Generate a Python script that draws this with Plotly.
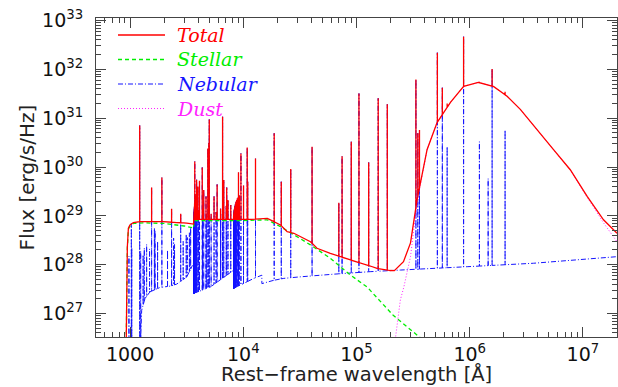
import numpy as np
import plotly.graph_objects as go

# ---------------- data ----------------
# Total continuum (Angstrom, erg/s/Hz)
TOT_WAVE = [912, 920, 946, 966, 998, 1069, 1223, 1498, 1968, 2578, 3160, 3640, 3650,
            11700, 16300, 18650, 21300, 24400, 27960, 39200, 44800, 58700, 88600,
            132000, 152000, 199000, 216000, 260000, 300000, 343000, 420000, 515000,
            676000, 880000, 1190000, 1620000, 2140000, 2800000, 5500000, 7730000,
            10900000, 15200000, 20000000]
TOT_FLUX = [1e25, 1e26, 2.34e28, 5.6e28, 6.5e28, 7.3e28, 7.6e28, 7.6e28, 7.6e28, 7.3e28,
            7.1e28, 6.8e28, 8.5e28, 8.5e28, 8.9e28, 7.6e28, 6.5e28, 4.75e28, 4.4e28,
            2.96e28, 2.17e28, 1.71e28, 1.25e28, 9.4e27, 8.4e27, 7.6e27, 7.55e27,
            1.15e28, 2.8e28, 2.15e29, 2.26e30, 8.1e30, 2.1e31, 4.45e31, 5.4e31,
            4.45e31, 2.8e31, 1.51e31, 2.27e30, 8.8e29, 2.5e29, 8.3e28, 4.4e28]

# Stellar continuum
STEL_WAVE = [912, 920, 946, 966, 998, 1069, 1300, 2000, 3000, 3600, 3640, 3650, 10000,
             16300, 21300, 28000, 39200, 58700, 88600, 124000, 211000, 366000, 450000]
STEL_FLUX = [1e25, 1e26, 2.2e28, 5.3e28, 6.2e28, 7.0e28, 7.2e28, 7.0e28, 6.2e28, 5.7e28,
             5.6e28, 8.0e28, 8.0e28, 8.3e28, 6.0e28, 4.1e28, 2.54e28, 1.35e28, 6.1e27,
             3.5e27, 9.2e26, 3.2e26, 2.1e26]

# Nebular continuum
NEB_WAVE = [912, 1216, 1218, 1266, 1354, 1498, 1837, 2250, 2578, 3160, 3640, 3650, 5140,
            8200, 8210, 12400, 14580, 14590, 18620, 22800, 32060, 63100, 132000, 244000,
            950000, 3650000, 20000000]
NEB_FLUX = [1e24, 1e24, 1e26, 1.17e27, 2.03e27, 2.78e27, 3.42e27, 3.64e27, 4.0e27,
            5.57e27, 1.08e28, 2.58e27, 3.52e27, 7.7e27, 3.27e27, 5.25e27, 6.1e27, 4.1e27,
            4.8e27, 5.25e27, 5.65e27, 6.4e27, 7.2e27, 7.77e27, 9.1e27, 1.07e28, 1.46e28]

# Dust continuum
DUST_WAVE = [200000, 221000, 244000, 262000, 300000, 343000, 420000, 515000, 676000,
             880000, 1190000, 1620000, 2140000, 2800000, 5500000, 7730000, 10900000,
             15200000, 20000000]
DUST_FLUX = [1e25, 3.2e26, 1.9e27, 3.5e27, 1.46e28, 1.9e29, 2.25e30, 8.1e30, 2.1e31,
             4.45e31, 5.4e31, 4.45e31, 2.8e31, 1.5e31, 2.26e30, 8.7e29, 2.4e29, 7.2e28,
             2.95e28]

# Emission lines: wavelength, peak of total spectrum (0 = not above), peak of nebular spectrum
LINE_WAVE = [977, 1026, 1035, 1216, 1240, 1304, 1335, 1400, 1486, 1549, 1640, 1663, 1750,
             1909, 2142, 2326, 2424, 2470, 2800, 2945, 3133, 3203, 3342, 3426,
             3662, 3664, 3666, 3668, 3670, 3672, 3674, 3676, 3679, 3682, 3686, 3691,
             3697, 3704, 3712, 3722, 3727, 3734, 3750, 3771, 3798, 3820, 3835, 3869,
             3889, 3970, 4026, 4102, 4340, 4363, 4471, 4686, 4713, 4861, 4959, 5007,
             5200, 5517, 5755, 5876, 6300, 6312, 6563, 6584, 6720, 7065, 7136, 7325,
             7751, 8210, 8215, 8220, 8227, 8234, 8242, 8252, 8263, 8276, 8292, 8312,
             8334, 8359, 8392, 8413, 8438, 8467, 8502, 8545, 8598, 8665, 8750, 8863,
             9015, 9069, 9229, 9531, 10049, 10830, 10938, 12818, 18751, 21655, 26252,
             40512, 69800, 74600, 89900, 105100, 128100, 155500, 187100, 334800,
             348000, 360000, 518000, 573000, 632000, 883000, 1218000, 1455000,
             1577000, 2053000]
LINE_TOT = [0, 0, 0, 7.1e30, 0, 0, 0, 0, 0, 3.8e29, 0, 0, 0,
            6.1e29, 0, 1.4e29, 0, 0, 1.1e29, 0, 0, 0, 0, 0,
            1.0e29, 1.0e29, 1.05e29, 1.05e29, 1.1e29, 1.1e29, 1.15e29, 1.2e29, 1.2e29,
            1.3e29, 1.3e29, 1.4e29, 1.5e29, 1.6e29, 1.8e29, 1.9e29, 1.3e30, 2.1e29,
            2.3e29, 2.5e29, 2.2e29, 1.2e29, 2.8e29, 5.5e29,
            3.0e29, 4.0e29, 1.3e29, 5.2e29, 9.8e29, 1.4e29, 3.4e29, 2.5e29, 1.1e29,
            2.4e30, 3.1e30, 9.4e30,
            1.1e29, 2.5e29, 1.2e29, 4.4e29, 1.4e29, 1.1e29, 1.07e31, 2.0e29, 5.4e29,
            1.6e29, 3.8e29, 2.1e29,
            1.66e29, 1.0e29, 1.0e29, 1.05e29, 1.05e29, 1.1e29, 1.1e29, 1.15e29, 1.2e29,
            1.2e29, 1.3e29, 1.3e29,
            1.4e29, 1.4e29, 1.5e29, 1.5e29, 1.6e29, 1.6e29, 1.7e29, 1.8e29, 1.9e29,
            2.0e29, 2.1e29, 2.3e29,
            2.4e29, 7.8e29, 2.6e29, 1.9e30, 4.2e29, 2.5e30, 5.0e29, 1.5e30, 4.9e30,
            5.0e29, 9.1e29,
            2.6e30, 1.85e29, 1.65e30, 3.3e30, 3.2e31, 1.24e30, 2.55e31, 1.92e31,
            6.2e31,
            4.9e30, 5.7e30, 2.19e32, 4.2e31, 2.0e31, 4.66e32, 5.57e31, 0,
            1.01e32, 3.47e31]
LINE_NEB = [1.5e28, 7.0e28, 2.2e28, 7.1e30, 1.9e28, 1.6e28, 2.2e28, 2.6e28, 2.1e28,
            3.8e29, 5.6e28, 5.0e28, 3.0e28,
            6.1e29, 2.0e28, 1.4e29, 3.5e28, 2.6e28, 1.1e29, 3.0e28, 4.2e28, 3.6e28,
            4.5e28, 6.0e28,
            1.0e29, 1.0e29, 1.05e29, 1.05e29, 1.1e29, 1.1e29, 1.15e29, 1.2e29, 1.2e29,
            1.3e29, 1.3e29, 1.4e29, 1.5e29, 1.6e29, 1.8e29, 1.9e29, 1.3e30, 2.1e29,
            2.3e29, 2.5e29, 2.2e29, 1.2e29, 2.8e29, 5.5e29,
            3.0e29, 4.0e29, 1.3e29, 5.2e29, 9.8e29, 1.4e29, 3.4e29, 2.5e29, 1.1e29,
            2.4e30, 3.1e30, 9.4e30,
            1.1e29, 2.5e29, 1.2e29, 4.4e29, 1.4e29, 1.1e29, 1.07e31, 2.0e29, 5.4e29,
            1.6e29, 3.8e29, 2.1e29,
            1.66e29, 1.0e29, 1.0e29, 1.05e29, 1.05e29, 1.1e29, 1.1e29, 1.15e29, 1.2e29,
            1.2e29, 1.3e29, 1.3e29,
            1.4e29, 1.4e29, 1.5e29, 1.5e29, 1.6e29, 1.6e29, 1.7e29, 1.8e29, 1.9e29,
            2.0e29, 2.1e29, 2.3e29,
            2.4e29, 7.8e29, 2.6e29, 1.9e30, 4.2e29, 2.5e30, 5.0e29, 1.5e30, 4.9e30,
            5.0e29, 9.1e29,
            2.6e30, 1.85e29, 1.65e30, 3.3e30, 3.2e31, 1.24e30, 2.55e31, 1.92e31,
            6.2e31,
            4.9e30, 5.7e30, 2.19e32, 4.2e31, 2.6e30, 4.66e32, 3.3e30, 5.8e29,
            1.01e32, 5.7e30]

X_TICKS = [1e3, 1e4, 1e5, 1e6, 1e7]
X_LABELS = ["1000", "10<sup>4</sup>", "10<sup>5</sup>", "10<sup>6</sup>", "10<sup>7</sup>"]
Y_TICKS = [1e27, 1e28, 1e29, 1e30, 1e31, 1e32, 1e33]
Y_LABELS = ["10<sup>27</sup>", "10<sup>28</sup>", "10<sup>29</sup>", "10<sup>30</sup>",
            "10<sup>31</sup>", "10<sup>32</sup>", "10<sup>33</sup>"]

SERIES = ["Total", "Stellar", "Nebular", "Dust"]
COLORS = {"Total": "#ff0000", "Stellar": "#00ee00", "Nebular": "#1515ff", "Dust": "#ff22ff"}


def log_interp(w, xp, fp):
    return 10 ** np.interp(np.log10(float(w)), np.log10(np.asarray(xp, float)),
                           np.log10(np.asarray(fp, float)))


def with_lines(cw, cf, lw, lp):
    pts = [(float(w), float(f)) for w, f in zip(cw, cf)]
    for w, p in zip(lw, lp):
        if p <= 0:
            continue
        b = float(log_interp(w, cw, cf))
        if p <= b:
            continue
        pts += [(float(w), b), (float(w), float(p)), (float(w), b)]
    pts.sort(key=lambda t: t[0])
    return [t[0] for t in pts], [t[1] for t in pts]


tot_x, tot_y = with_lines(TOT_WAVE, TOT_FLUX, LINE_WAVE, LINE_TOT)
neb_x, neb_y = with_lines(NEB_WAVE, NEB_FLUX, LINE_WAVE, LINE_NEB)

fig = go.Figure()
fig.add_trace(go.Scatter(x=neb_x, y=neb_y, mode="lines", name="Nebular",
                         line=dict(color=COLORS["Nebular"], width=1, dash="5px,2px,1px,2px",
                                   simplify=False)))
fig.add_trace(go.Scatter(x=[float(v) for v in STEL_WAVE], y=[float(v) for v in STEL_FLUX],
                         mode="lines", name="Stellar",
                         line=dict(color=COLORS["Stellar"], width=1.3, dash="4px,3px",
                                   simplify=False)))
fig.add_trace(go.Scatter(x=[float(v) for v in DUST_WAVE], y=[float(v) for v in DUST_FLUX],
                         mode="lines", name="Dust",
                         line=dict(color=COLORS["Dust"], width=1, dash="1px,2px",
                                   simplify=False)))
fig.add_trace(go.Scatter(x=tot_x, y=tot_y, mode="lines", name="Total",
                         line=dict(color=COLORS["Total"], width=1.3, simplify=False)))

axis_common = dict(
    type="log", ticks="inside", ticklen=10, tickwidth=1, tickcolor="#444",
    showline=True, linecolor="#444", linewidth=1, mirror="ticks",
    showgrid=False, zeroline=False,
    tickfont=dict(family="DejaVu Sans", size=19, color="#111"),
)

x_minor = [m * 10.0 ** k for k in range(2, 8) for m in range(2, 10)]
y_minor = [m * 10.0 ** k for k in range(26, 33) for m in range(2, 10)]

fig.update_xaxes(range=[np.log10(500), np.log10(2e7)], tickvals=X_TICKS, ticktext=X_LABELS,
                 minor=dict(ticks="inside", ticklen=5, tickwidth=1, tickcolor="#444",
                            tickvals=x_minor, showgrid=False),
                 ticklabelstandoff=0, **axis_common)
fig.update_yaxes(range=[26.52, 33.05], tickvals=Y_TICKS, ticktext=Y_LABELS,
                 minor=dict(ticks="inside", ticklen=5, tickwidth=1, tickcolor="#444",
                            tickvals=y_minor, showgrid=False),
                 ticklabelstandoff=8, **axis_common)

W, H = 618, 387
L, R, T, B = 96, 1, 18, 50
pw, ph = W - L - R, H - T - B


def px(xp):
    return (xp - L) / pw


def py(yp):
    return (H - B - yp) / ph


annotations = []
shapes = []
rows_y = [35, 59.5, 84, 108.5]
dashes = {"Total": "solid", "Stellar": "4px,3px", "Nebular": "5px,2px,1px,2px", "Dust": "1px,2px"}
for name, yy in zip(SERIES, rows_y):
    shapes.append(dict(type="line", xref="paper", yref="paper", x0=px(118), x1=px(165),
                       y0=py(yy), y1=py(yy),
                       line=dict(color=COLORS[name], width=1.3 if name in ("Total", "Stellar") else 1,
                                 dash=dashes[name])))
    annotations.append(dict(xref="paper", yref="paper", x=px(175), y=py(yy),
                            xanchor="left", yanchor="middle", showarrow=False,
                            text="<i>%s</i>" % name,
                            font=dict(family="DejaVu Serif", size=19, color=COLORS[name])))

annotations.append(dict(xref="paper", yref="paper", x=0.5, y=py(374.5), xanchor="center",
                        yanchor="middle", showarrow=False, text="Rest\u2212frame wavelength [\u00c5]",
                        font=dict(family="DejaVu Sans", size=19.5, color="#222")))
annotations.append(dict(xref="paper", yref="paper", x=px(26), y=0.5, xanchor="center",
                        yanchor="middle", showarrow=False, text="Flux [erg/s/Hz]", textangle=-90,
                        font=dict(family="DejaVu Sans", size=20, color="#222")))

fig.update_layout(width=W, height=H, margin=dict(l=L, r=R, t=T, b=B),
                  paper_bgcolor="white", plot_bgcolor="white", showlegend=False,
                  annotations=annotations, shapes=shapes)

fig.write_html("out.html")
